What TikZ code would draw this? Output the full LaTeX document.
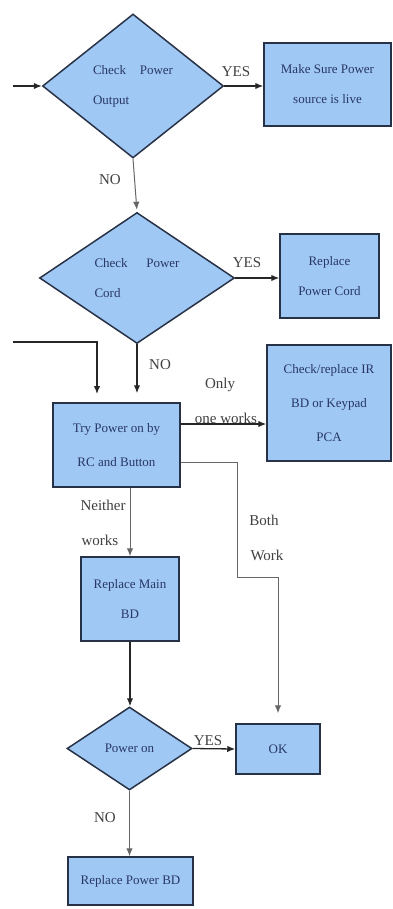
\documentclass[tikz,border=0pt]{standalone}
\usepackage{fontspec}
\setmainfont{Liberation Serif}
\usetikzlibrary{shapes.geometric,arrows.meta,positioning}

\definecolor{boxfill}{RGB}{160,200,245}
\definecolor{boxline}{RGB}{40,50,70}
\definecolor{boxtext}{RGB}{40,55,100}

\begin{document}
\begin{tikzpicture}[
    x=1pt, y=-1pt,
    stepbox/.style={draw=boxline, fill=boxfill, line width=1.5pt, inner sep=0pt,
        align=center, text=boxtext, font=\fontsize{13}{30}\selectfont},
    decision/.style={diamond, draw=boxline, fill=boxfill, line width=1.5pt, inner sep=0pt,
        align=left, text=boxtext, font=\fontsize{13}{30}\selectfont},
    flowarrow/.style={line width=1.3pt, black!85, -{Latex[length=8pt,width=6.5pt]}},
    thinarrow/.style={line width=1pt, black!60, -{Latex[length=8pt,width=6.5pt]}},
    lbl/.style={font=\fontsize{15}{17}\selectfont, text=black!75, inner sep=0pt}
]
\useasboundingbox (0,0) rectangle (393,909);

% Decisions
\node[decision, minimum width=181pt, minimum height=144pt, text width=80pt] (output) at (133,86) {Check\hfill Power\\Output};
\node[decision, minimum width=195pt, minimum height=131pt, text width=85pt] (cord) at (137,278) {Check\hfill Power\\Cord};
\node[decision, minimum width=125pt, minimum height=83pt, align=center] (poweron) at (129.5,748.5) {Power on};

% Actions
\node[stepbox, minimum width=127pt, minimum height=83pt] (live) at (327.5,84.5) {Make Sure Power\\source is live};
\node[stepbox, minimum width=99pt, minimum height=84pt] (newcord) at (329.5,276) {Replace\\Power Cord};
\node[stepbox, minimum width=127pt, minimum height=84pt, font=\fontsize{13}{34}\selectfont] (trypower) at (116.5,445) {Try Power on by\\RC and Button};
\node[stepbox, minimum width=124pt, minimum height=116pt, font=\fontsize{13}{34}\selectfont] (keypad) at (329,403) {Check/replace IR\\BD or Keypad\\PCA};
\node[stepbox, minimum width=98pt, minimum height=84pt] (mainbd) at (130,599) {Replace Main\\BD};
\node[stepbox, minimum width=84pt, minimum height=50pt] (ok) at (278,749) {OK};
\node[stepbox, minimum width=125pt, minimum height=48pt] (powerbd) at (130.5,881) {Replace Power BD};

% Free ends
\coordinate (start) at (13,86);
\coordinate (back) at (13,342);
\coordinate (bothturn) at (237,577);

% Connectors
\draw[flowarrow] (start) -- (output.west);
\draw[flowarrow] (output.east) -- (output.east -| live.west);
\draw[thinarrow, shorten >=2pt] (output.south) -- (cord.north);
\draw[flowarrow] (cord.east) -- (cord.east -| newcord.west);
\draw[flowarrow, shorten >=9pt] (cord.south) -- (cord.south |- trypower.north);
\draw[flowarrow, shorten >=9pt] (back) -- (97,342) -- (97,403);
\draw[flowarrow] ([yshift=21pt]trypower.east) -- ([yshift=21pt]trypower.east -| keypad.west);
\draw[thinarrow, shorten >=10pt] ([yshift=-17pt]trypower.east) -| (bothturn) -| (ok.north);
\draw[thinarrow] (trypower.south -| mainbd.north) -- (mainbd.north);
\draw[flowarrow] (mainbd.south) -- (mainbd.south |- poweron.north);
\draw[flowarrow] (poweron.east) -- (ok.west);
\draw[thinarrow] (poweron.south) -- (poweron.south |- powerbd.north);

% Labels
\node[lbl] (yes1) at (236,72) {YES};
\node[lbl] (no1) at (110,180) {NO};
\node[lbl] (yes2) at (247,263) {YES};
\node[lbl] (no2) at (160,365) {NO};
\node[lbl] (only) at (220,385) {Only};
\node[lbl] (onework) at (226,418) {one works};
\node[lbl] (neither) at (103,505) {Neither};
\node[lbl] (neitherw) at (100,540) {works};
\node[lbl] (both) at (264,520) {Both};
\node[lbl] (bothw) at (267,555) {Work};
\node[lbl] (yes3) at (208,741) {YES};
\node[lbl] (no3) at (105,818) {NO};

\end{tikzpicture}
\end{document}
